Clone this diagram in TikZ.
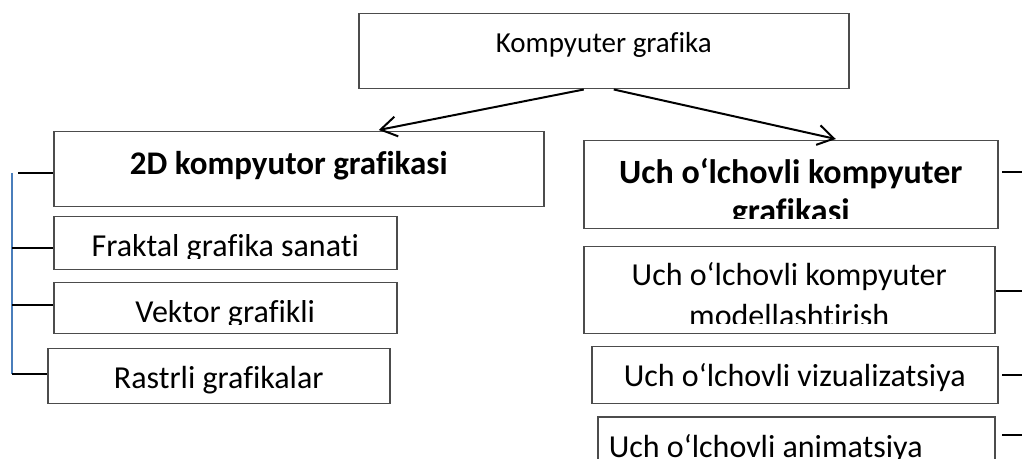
\documentclass[tikz,border=0pt]{standalone}
\usepackage{fontspec}
\setmainfont{Carlito}[Ligatures=CommonOff]
\usepackage{trimclip}
\usetikzlibrary{arrows.meta, positioning}
\definecolor{spineblue}{RGB}{74,126,187}
% text cut off below the baseline, as in the original text boxes
\newcommand{\cuttext}[2]{\clipbox{0pt}{\raisebox{0pt}[\height][#1]{#2}}}

\begin{document}
\begin{tikzpicture}[
        x=0.5pt, y=-0.5pt,
        box/.style 2 args={draw=black!70, line width=.75pt, inner sep=0pt, anchor=north west,
            minimum width=#1, text height=20pt, text depth=#2,
            font=\fontsize{16pt}{20pt}\selectfont},
        title/.style={font=\fontsize{17pt}{19.5pt}\bfseries\selectfont},
        link/.style={line width=1pt},
        arrow/.style={link, -{Straight Barb[length=8pt, width=10pt]}},
        spine/.style={draw=spineblue, line width=.75pt}
    ]
    \useasboundingbox (0,0) rectangle (1022,459);

    \node[box={245pt}{18pt}, text height=19.5pt, font=\fontsize{14.5pt}{18pt}\selectfont]
        (kg) at (358,13) {Kompyuter grafika};

    % left branch
    \node[box={245pt}{16pt}, text height=21.5pt, title, font=\fontsize{16.5pt}{20pt}\bfseries\selectfont]
        (twod) at (53,131) {2D kompyutor grafikasi\hspace*{10pt}};
    \node[box={171.5pt}{6.5pt}] (frak) at (53,216) {\cuttext{1pt}{Fraktal grafika sanati}};
    \node[box={171.5pt}{5.5pt}] (vekt) at (53,282) {\cuttext{1pt}{Vektor grafikli}};
    \node[box={171pt}{7.5pt}] (rast) at (47,348) {Rastrli grafikalar};

    % right branch
    \node[box={207pt}{22.5pt}, text height=21.5pt, title] (uch) at (583,140)
        {\cuttext{17.5pt}{\begin{tabular}[t]{@{}c@{}}Uch o‘lchovli kompyuter\\grafikasi\end{tabular}}};
    \node[box={205.5pt}{24pt}, text height=19.5pt, font=\fontsize{16pt}{20.5pt}\selectfont] (model) at (583,246)
        {\cuttext{19pt}{\begin{tabular}[t]{@{}c@{}}Uch o‘lchovli kompyuter\\modellashtirish\end{tabular}}};
    \node[box={203pt}{8.5pt}] (vizual) at (591,346) {Uch o‘lchovli vizualizatsiya};
    \node[box={198.5pt}{11.5pt}, text height=20.5pt] (anim) at (597,416)
        {Uch o‘lchovli animatsiya\hspace*{30.5pt}};

    \draw[arrow] ([xshift=-10pt]kg.south) -- ([xshift=40pt, yshift=.5pt]twod.north);
    \draw[arrow] ([xshift=5pt]kg.south) -- ([xshift=22.5pt, yshift=.5pt]uch.north);

    % spine on the left
    \coordinate (s1) at (18,173);
    \coordinate (s2) at (12,248);
    \coordinate (s3) at (12,305);
    \coordinate (s4) at (12,374);
    \draw[spine] (12,173) -- (s4);
    \foreach \From/\To in {s1/twod, s2/frak, s3/vekt, s4/rast}
        \draw[link] (\From) -- (\From -| \To.west);

    % stubs on the right
    \coordinate (r1) at (1022,172);
    \coordinate (r2) at (1022,291);
    \coordinate (r3) at (1022,375);
    \coordinate (r4) at (1022,435);
    \foreach \From/\To/\Gap in {r1/uch/1.5pt, r2/model/0pt, r3/vizual/1.5pt, r4/anim/3pt}
        \draw[link, shorten >=\Gap] (\From) -- (\From -| \To.east);
\end{tikzpicture}
\end{document}
